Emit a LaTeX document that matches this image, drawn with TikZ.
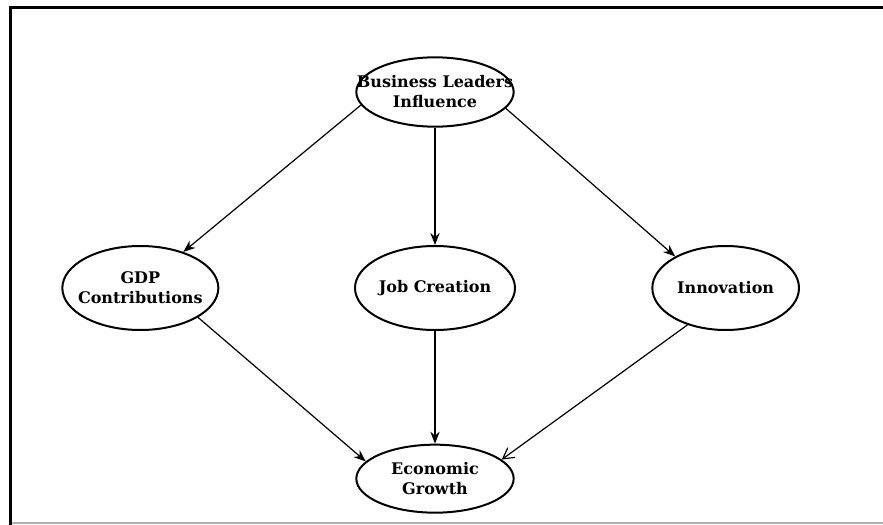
\documentclass[tikz,border=0pt]{standalone}
\usepackage{fontspec}
\setmainfont{DejaVu Serif}
\usetikzlibrary{shapes.geometric,arrows.meta,positioning}

\begin{document}
\begin{tikzpicture}[x=0.75pt, y=-0.75pt, thick,
    main/.style = {draw, ellipse, line width=1.5pt, inner sep=-30pt, align=center,
                   font=\bfseries\fontsize{12}{15}\selectfont},
    link/.style = {line width=0.9pt, -{Stealth[length=9pt,width=7pt]}},
    openlink/.style = {line width=0.9pt, -{Straight Barb[length=8pt,width=9pt]}}]
    % frame
    \useasboundingbox (0,0) rectangle (883,525);
    \draw[black, line width=2.2pt] (10.5,525) -- (10.5,7.5) -- (883,7.5);
    \draw[black!30, line width=1pt] (12,523) -- (883,523);

    \node[main, minimum width=120pt, minimum height=63pt] (n_job) at (435,288) {Job Creation};
    \node[main, minimum width=118pt, minimum height=52pt] (n_lead) [above of=n_job, node distance=147pt] {Business Leaders\\Influence};
    \node[main, minimum width=117pt, minimum height=63pt] (n_gdp) [left of=n_job, node distance=221pt] {GDP\\Contributions};
    \node[main, minimum width=110pt, minimum height=63pt] (n_inno) [right of=n_job, node distance=218pt] {Innovation};
    \node[main, minimum width=118pt, minimum height=51pt] (n_eco) [below of=n_job, node distance=143pt] {Economic\\Growth};

    \draw[link] (n_lead.190) -- (n_gdp.40);
    \draw[link] (n_lead) -- (n_job);
    \draw[link] (n_lead.-13) -- (n_inno.148);
    \draw[link] (n_gdp.-27) -- (n_eco.166);
    \draw[link] (n_job) -- (n_eco);
    \draw[openlink] (n_inno.224) -- (n_eco.16);
\end{tikzpicture}
\end{document}
